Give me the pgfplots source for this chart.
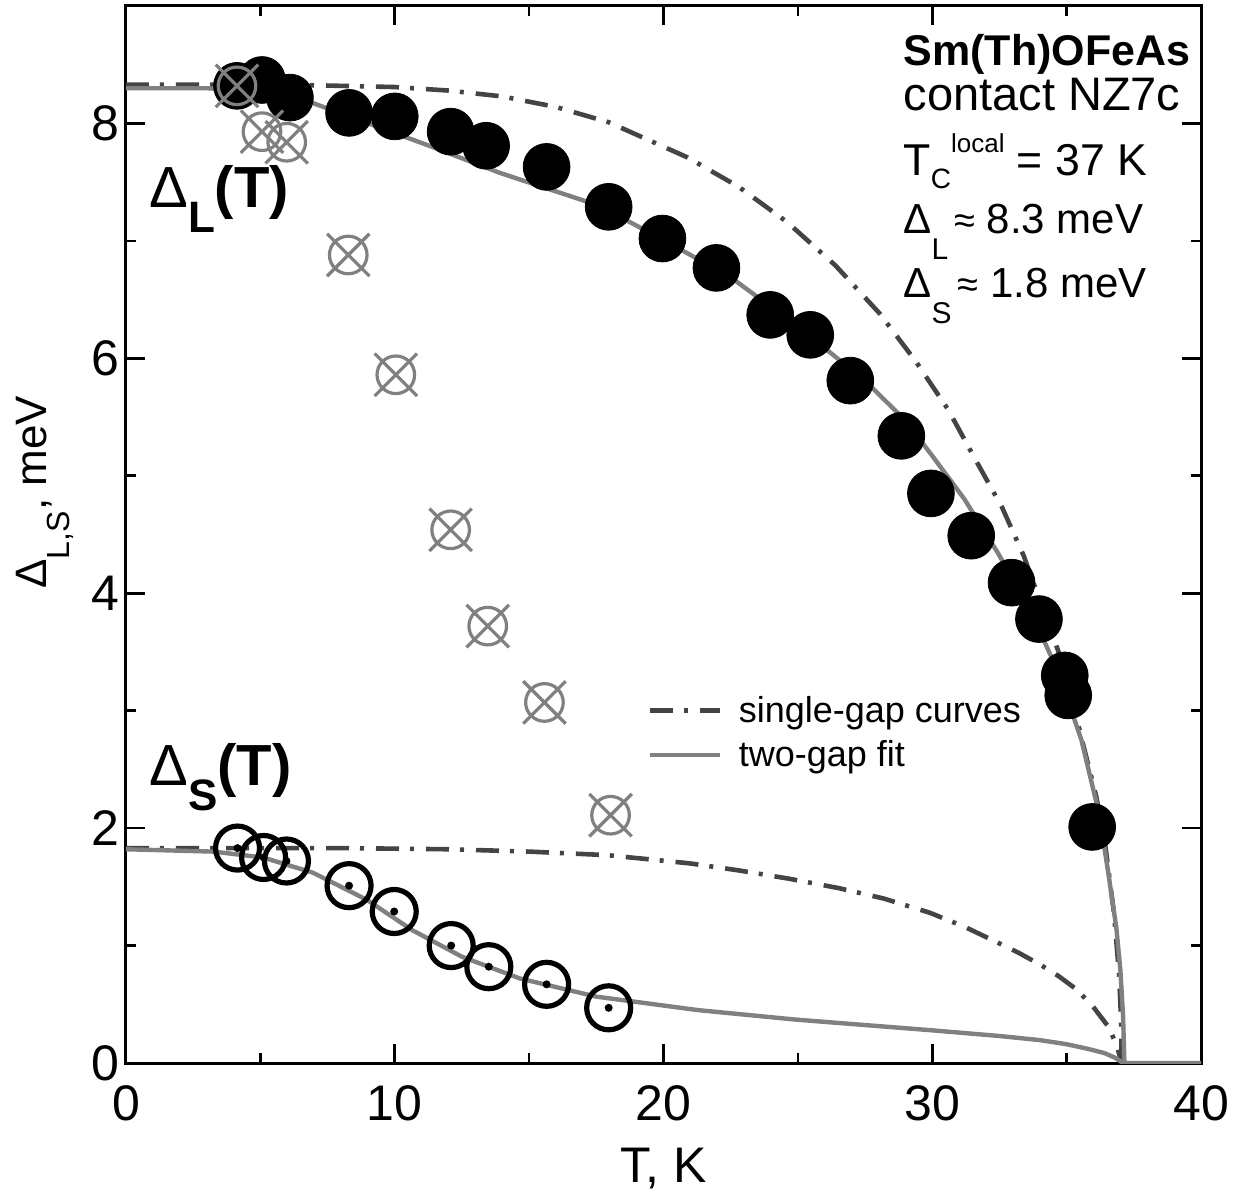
\documentclass[border=0pt]{standalone}
\usepackage{fontspec}
\setmainfont{Liberation Sans}
\usepackage{pgfplots}
\pgfplotsset{compat=1.18}
\definecolor{dgray}{HTML}{444444}
\definecolor{mgray}{HTML}{808080}
\pgfdeclareplotmark{crossedcirc}{%
  \pgfpathcircle{\pgfpointorigin}{9.4pt}%
  \pgfpathmoveto{\pgfqpoint{-10.6pt}{-10.6pt}}\pgfpathlineto{\pgfqpoint{10.6pt}{10.6pt}}%
  \pgfpathmoveto{\pgfqpoint{-10.6pt}{10.6pt}}\pgfpathlineto{\pgfqpoint{10.6pt}{-10.6pt}}%
  \pgfusepathqstroke}
\pgfdeclareplotmark{dotcirc}{%
  \pgfpathcircle{\pgfpointorigin}{11pt}\pgfusepathqstroke
  \pgfpathcircle{\pgfpointorigin}{2pt}\pgfusepathqfill}
\begin{document}
\begin{tikzpicture}
\begin{axis}[
  scale only axis, width=537.5pt, height=528.5pt,
  xmin=0, xmax=40, ymin=0, ymax=9,
  xtick={0,10,20,30,40}, ytick={0,2,4,6,8},
  minor x tick num=1, minor y tick num=1,
  tick align=inside, major tick length=9.5pt, minor tick length=5pt,
  every tick/.style={black, line width=1.3pt},
  axis line style={line width=1.5pt},
  tick label style={font=\fontsize{25}{30}\selectfont},
  /pgf/number format/assume math mode=true,
  xticklabel style={anchor=base, yshift=-28.5pt},
  xlabel={T, K},
  xlabel style={at={(axis description cs:0.5,-0.1135)}, anchor=base, font=\fontsize{25}{30}\selectfont},
  ylabel={Δ\raisebox{-11.5pt}{\fontsize{16}{16}\selectfont L,S}, meV},
  ylabel style={at={(axis description cs:-0.0735,0.54)}, anchor=base, font=\fontsize{22}{26}\selectfont},
  legend style={at={(axis cs:19.38,3.17)}, anchor=north west, draw=none, fill=none,
    font=\fontsize{18}{21}\selectfont, inner sep=0pt, column sep=6pt, row sep=2.5pt,
    nodes={inner sep=2.5pt}},
  legend cell align=left,
  legend image code/.code={\draw[#1] (0pt,0pt) -- (35pt,0pt);},
]
% Delta_L data (filled black circles)
\addplot[only marks, mark=*, mark size=11.7pt, mark options={fill=black, draw=none}, forget plot] coordinates {
(4.13,8.32) (5.06,8.37) (6.1,8.22) (8.3,8.09) (10.0,8.06) (12.08,7.93) (13.4,7.81)
(15.65,7.63) (17.96,7.29) (19.96,7.02) (21.97,6.77) (23.97,6.37) (25.46,6.20)
(26.95,5.81) (28.85,5.34) (29.95,4.85) (31.45,4.49) (32.95,4.09) (33.97,3.78)
(34.93,3.30) (35.06,3.13) (35.95,2.01)};
% Delta_S data (open circles with dot)
\addplot[only marks, mark=dotcirc, mark options={draw=black, fill=black, line width=2.6pt}, forget plot] coordinates {
(4.15,1.83) (5.12,1.75) (5.97,1.72) (8.3,1.51) (9.98,1.29) (12.1,1.00) (13.5,0.82) (15.65,0.67) (17.96,0.47)};
% crossed gray circles
\addplot[only marks, mark=crossedcirc, mark options={draw=mgray, line width=1.6pt}, forget plot] coordinates {
(4.13,8.32) (5.06,7.93) (5.98,7.84) (8.27,6.88) (10.04,5.86) (12.08,4.54) (13.46,3.72) (15.57,3.07) (18.03,2.11)};
% single-gap curves
\addplot[dgray, line width=2.3pt, dash pattern=on 11.5pt off 5.5pt on 2pt off 6pt, no markers] coordinates {
(0,8.33) (6,8.33) (10,8.31) (12,8.28) (14,8.23) (16,8.14) (17.96,8.01) (20.9,7.71) (22.8,7.46)
(24.6,7.16) (26.4,6.79) (28.05,6.38) (29.4,5.97) (30.6,5.56) (31.6,5.14) (32.6,4.73) (33.4,4.32)
(34.05,3.91) (34.7,3.50) (35.2,3.09) (35.65,2.68) (36.1,2.27) (36.41,1.90) (36.76,1.28)
(36.95,0.76) (37.02,0.40) (37.05,0)};
\addlegendentry{single-gap curves}
\addplot[dgray, line width=2.3pt, dash pattern=on 11.5pt off 5.5pt on 2pt off 6pt, no markers, forget plot] coordinates {
(0,1.83) (8,1.83) (12,1.82) (15,1.80) (17.9,1.77) (20.97,1.70) (22.8,1.64) (24.65,1.57)
(26.5,1.49) (28.2,1.40) (29.9,1.28) (31.2,1.16) (32.3,1.04) (33.2,0.94) (34.0,0.84)
(34.7,0.74) (35.35,0.63) (35.95,0.49) (36.55,0.31) (36.85,0.16) (37.05,0)};
% two-gap fit
\addplot[mgray, line width=2.2pt, no markers] coordinates {
(0,8.30) (3,8.30) (4.5,8.28) (6.4,8.22) (8.9,8.01) (11.4,7.80) (13.9,7.58) (17.6,7.30)
(20.06,7.00) (22.5,6.69) (25.0,6.27) (27.5,5.81) (29.0,5.47) (30.0,5.17) (31.2,4.80)
(32.45,4.34) (33.7,3.83) (34.7,3.32) (35.55,2.75) (36.2,2.13) (36.55,1.62) (36.85,1.15)
(37.0,0.79) (37.1,0.40) (37.15,0) (40,0)};
\addlegendentry{two-gap fit}
\addplot[mgray, line width=2.2pt, no markers, forget plot] coordinates {
(0,1.82) (3.26,1.80) (5.1,1.75) (6.96,1.62) (8.96,1.39) (10.66,1.13) (12.5,0.905)
(14.65,0.72) (17.5,0.565) (21.3,0.45) (24.9,0.37) (29.9,0.28) (32.5,0.23) (34.0,0.195)
(35.0,0.16) (35.8,0.12) (36.4,0.085) (36.8,0.045) (37.1,0)};
% annotations
\node[anchor=base west, inner sep=0pt, font=\fontsize{21.5}{26}\selectfont] at (axis cs:28.92,8.494) {\textbf{Sm(Th)OFeAs}};
\node[anchor=base west, inner sep=0pt, font=\fontsize{23.5}{28}\selectfont] at (axis cs:28.92,8.11) {contact NZ7c};
\node[anchor=base west, inner sep=0pt, font=\fontsize{22.3}{27}\selectfont] at (axis cs:28.92,7.557) {T\raisebox{-6.5pt}{\fontsize{14}{14}\selectfont C}\raisebox{11.5pt}{\fontsize{13}{13}\selectfont local} = 37 K};
\node[anchor=base west, inner sep=0pt, font=\fontsize{21}{26}\selectfont] at (axis cs:28.92,7.064) {Δ\raisebox{-13pt}{\fontsize{15}{15}\selectfont L}\hspace{3pt}{\fontsize{19}{19}\selectfont≈} 8.3 meV};
\node[anchor=base west, inner sep=0pt, font=\fontsize{21}{26}\selectfont] at (axis cs:28.92,6.519) {Δ\raisebox{-13pt}{\fontsize{15}{15}\selectfont S}\hspace{3pt}{\fontsize{19}{19}\selectfont≈} 1.8 meV};
\node[anchor=base west, inner sep=0pt] at (axis cs:0.855,7.285) {\fontsize{29}{29}\selectfont Δ\raisebox{-12.5pt}{\fontsize{22}{22}\selectfont\bfseries L}\textbf{(T)}};
\node[anchor=base west, inner sep=0pt] at (axis cs:0.855,2.366) {\fontsize{29}{29}\selectfont Δ\raisebox{-12.5pt}{\fontsize{22}{22}\selectfont\bfseries S}\textbf{(T)}};
\coordinate (SW) at (rel axis cs:0,0);
\coordinate (NE) at (rel axis cs:1,1);
\end{axis}
\pgfresetboundingbox
\path (SW) +(-63pt,-66pt) (NE) +(28pt,3pt);
\end{tikzpicture}
\end{document}
